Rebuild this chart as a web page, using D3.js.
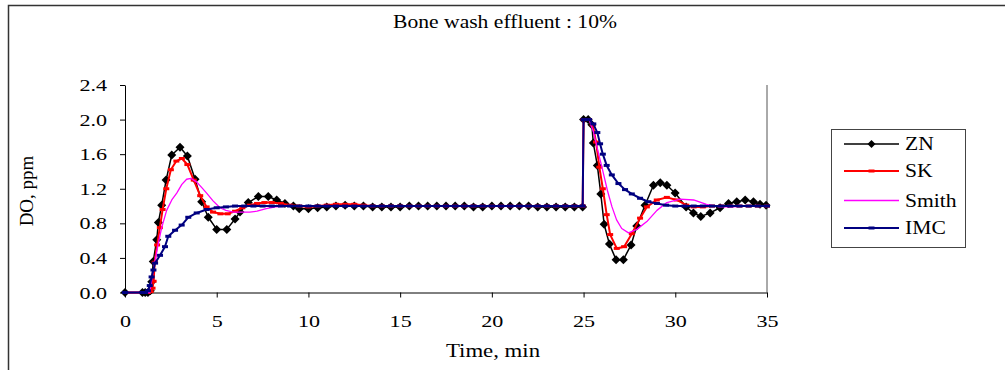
<!DOCTYPE html>
<html>
<head>
<meta charset="utf-8">
<script src="https://cdn.jsdelivr.net/npm/d3@7"></script>
<style>
  html, body { margin: 0; padding: 0; background: #fff; }
  svg { display: block; }
  text { font-family: "Liberation Serif", "Times New Roman", serif; fill: #000; }
</style>
</head>
<body>
<svg id="chart" width="1005" height="370"></svg>
<script>
// ---- data (time in min, DO in ppm) ----
const xTicks = [0, 5, 10, 15, 20, 25, 30, 35];
const yTicks = [0, 0.4, 0.8, 1.2, 1.6, 2.0, 2.4];
const seriesNames = ["ZN", "SK", "Smith", "IMC"];
const chartTitle = "Bone wash effluent : 10%";
const xTitle = "Time, min";
const yTitle = "DO, ppm";

const znData = [[0,0],[0.95,0],[1.1,0],[1.25,0],[1.38,0.02],[1.46,0.125],[1.54,0.36],[1.73,0.61],[1.82,0.81],[2.0,1.01],
  [2.24,1.30],[2.55,1.59],[3.0,1.68],[3.4,1.58],[3.82,1.31],[4.18,1.05],[4.54,0.87],[5.0,0.73],[5.55,0.73],[6.0,0.85],
  [6.27,0.93],[6.72,1.04],[7.27,1.11],[7.81,1.11],[8.27,1.07],[8.72,1.03],[9.18,1.0],[9.5,0.97],
  [10,0.97],[10.5,0.98],[11,0.99],[11.5,1.0],[12,1.01],[12.5,1.0],[13,1.0],[13.5,0.99],[14,0.99],[14.5,0.99],
  [15,0.99],[15.5,1.0],[16,1.0],[16.5,1.0],[17,1.0],[17.5,1.0],[18,1.0],[18.5,1.0],[19,0.99],[19.5,0.99],
  [20,1.0],[20.5,1.0],[21,1.0],[21.5,1.0],[22,1.0],[22.5,0.99],[23,0.99],[23.5,0.99],[24,0.99],[24.5,0.99],
  [24.95,0.99],[25.0,2.0],[25.25,2.0],[25.45,1.94],[25.53,1.73],[25.75,1.47],[25.94,1.14],[26.12,0.79],[26.41,0.56],
  [26.77,0.38],[27.17,0.38],[27.59,0.55],[27.9,0.77],[28.35,1.01],[28.81,1.24],[29.18,1.27],[29.54,1.24],[29.99,1.15],
  [30.59,0.99],[30.99,0.92],[31.39,0.88],[31.9,0.92],[32.44,0.98],[32.9,1.03],[33.35,1.05],[33.81,1.07],[34.26,1.05],
  [34.62,1.02],[34.95,1.01]];

const skData = [[0,0],[0.95,0],[1.1,0],[1.25,0],[1.4,0.01],[1.5,0.05],[1.56,0.13],[1.62,0.35],[1.75,0.55],[1.9,0.75],
  [2.05,0.96],[2.25,1.2],[2.5,1.42],[2.8,1.52],[3.1,1.55],[3.4,1.48],[3.75,1.3],[4.1,1.12],[4.45,0.99],[4.8,0.93],
  [5.2,0.91],[5.6,0.91],[6.0,0.94],[6.4,0.98],[6.8,1.01],[7.2,1.03],[7.6,1.04],[8.0,1.04],[8.5,1.03],[9.0,1.01],
  [9.5,1.0],[10,0.99],[10.5,1.0],[11,1.01],[11.5,1.02],[12,1.02],[12.5,1.02],[13,1.01],[13.5,1.0],[14,1.0],
  [14.5,1.0],[15,1.0],[15.5,1.0],[16,1.0],[16.5,1.0],[17,1.0],[17.5,1.0],[18,1.0],[18.5,1.0],[19,1.0],
  [19.5,1.0],[20,1.0],[20.5,1.0],[21,1.0],[21.5,1.0],[22,1.0],[22.5,1.0],[23,1.0],[23.5,1.0],[24,1.0],
  [24.5,1.0],[24.95,1.0],[25,2.0],[25.3,2.0],[25.5,1.94],[25.68,1.74],[25.86,1.45],[26.05,1.2],[26.26,0.9],[26.45,0.67],
  [26.81,0.51],[27.21,0.53],[27.63,0.68],[28.08,0.86],[28.45,0.99],[28.99,1.07],[29.54,1.1],[30.08,1.07],[30.6,1.01],
  [31.0,0.99],[31.5,0.99],[32,1.0],[32.5,1.0],[33,1.0],[33.5,1.0],[34,1.0],[34.5,1.0],[35,1.0]];

const smithData = [[0,0],[1.35,0],[1.5,0.2],[1.65,0.38],[1.8,0.55],[2.0,0.75],[2.27,0.95],[2.55,1.07],[2.82,1.15],
  [3.1,1.25],[3.36,1.31],[3.6,1.32],[3.9,1.28],[4.2,1.21],[4.45,1.15],[4.8,1.06],[5.18,0.98],[5.5,0.95],[5.9,0.93],
  [6.4,0.93],[6.8,0.93],[7.2,0.94],[7.7,0.97],[8.2,0.99],[8.8,1.0],[10,1.0],[15,1.0],[20,1.0],[24.95,1.0],
  [25,2.0],[25.3,2.0],[25.55,1.85],[25.8,1.62],[26.0,1.45],[26.3,1.18],[26.55,0.99],[26.8,0.84],[27.08,0.74],
  [27.45,0.69],[27.9,0.73],[28.45,0.82],[29.0,0.95],[29.54,1.04],[30.27,1.08],[31.0,1.07],[31.7,1.02],[32.4,0.99],
  [33,0.99],[34,1.0],[35,1.0]];

const imcData = [[0,0],[0.95,0],[1.1,0],[1.25,0.02],[1.35,0.08],[1.45,0.18],[1.55,0.26],[1.64,0.34],[1.91,0.43],
  [2.18,0.53],[2.36,0.65],[2.73,0.72],[3.09,0.78],[3.45,0.87],[3.91,0.92],[4.45,0.96],[5.0,0.98],[5.5,0.99],
  [6.0,1.0],[6.5,1.0],[7,1.0],[7.5,1.0],[8,1.0],[8.5,1.0],[9,1.0],[9.5,1.0],[10,1.0],[10.5,1.0],[11,1.0],[11.5,1.0],
  [12,1.0],[12.5,1.0],[13,1.0],[13.5,1.0],[14,1.0],[14.5,1.0],[15,1.0],[15.5,1.0],[16,1.0],[16.5,1.0],[17,1.0],
  [17.5,1.0],[18,1.0],[18.5,1.0],[19,1.0],[19.5,1.0],[20,1.0],[20.5,1.0],[21,1.0],[21.5,1.0],[22,1.0],[22.5,1.0],
  [23,1.0],[23.5,1.0],[24,1.0],[24.5,1.0],[24.95,1.0],[25,2.0],[25.3,2.0],[25.53,1.95],[25.75,1.85],[25.9,1.72],
  [26.05,1.6],[26.26,1.47],[26.54,1.36],[26.9,1.26],[27.26,1.19],[27.63,1.14],[28.08,1.09],[28.53,1.05],[29,1.03],
  [29.5,1.01],[30,1.0],[30.5,1.0],[31,1.0],[31.5,1.0],[32,1.0],[32.5,1.0],[33,1.0],[33.5,1.0],[34,1.0],[34.5,1.0],[35,1.0]];

// ---- drawing ----
const svg = d3.select("#chart");
const x = d3.scaleLinear().domain([0, 35]).range([125, 767]);
const y = d3.scaleLinear().domain([0, 2.4]).range([292.5, 85]);

// outer frame (cut at bottom/right like the reference)
svg.append("path")
  .attr("d", "M8.5,370 L8.5,5.5 L1005,5.5")
  .attr("fill", "none").attr("stroke", "#333").attr("stroke-width", 1.5);

// title
svg.append("text").text(chartTitle)
  .attr("text-anchor", "middle").attr("font-size", 18)
  .attr("transform", "translate(505,28) scale(1.2,1)");

// right plot border
svg.append("line").attr("x1", 767).attr("x2", 767).attr("y1", y(2.4)).attr("y2", y(0))
  .attr("stroke", "#555").attr("stroke-width", 1);

// axes
const gy = svg.append("g").attr("transform", `translate(${x(0)},0)`)
  .call(d3.axisLeft(y).tickValues(yTicks).tickFormat(d3.format(".1f")).tickSize(5).tickSizeOuter(0));
gy.selectAll("text").attr("x", null).attr("dy", null)
  .attr("font-size", 17).attr("font-family", "Liberation Serif")
  .attr("transform", "translate(-18,5.5) scale(1.3,1)");

const gx = svg.append("g").attr("transform", `translate(0,${y(0)})`)
  .call(d3.axisBottom(x).tickValues(xTicks).tickFormat(d3.format("d")).tickSize(5).tickSizeOuter(0));
gx.selectAll("text").attr("y", null).attr("dy", null)
  .attr("font-size", 17).attr("font-family", "Liberation Serif")
  .attr("transform", "translate(0,34) scale(1.3,1)");
svg.selectAll(".domain, .tick line").attr("stroke", "#000");

// axis titles
svg.append("text").text(xTitle).attr("text-anchor", "middle").attr("font-size", 19)
  .attr("transform", "translate(493,357) scale(1.2,1)");
svg.append("text").text(yTitle).attr("text-anchor", "middle").attr("font-size", 19)
  .attr("transform", "translate(33,191) rotate(-90)");

// series
const line = d3.line().x(d => x(d[0])).y(d => y(d[1]));
const diamond = "M0,-4.5L4.5,0L0,4.5L-4.5,0Z";
const series = [
  { name: seriesNames[0], data: znData, color: "#000000", width: 1.5, marker: "diamond" },
  { name: seriesNames[1], data: skData, color: "#FF0000", width: 2, marker: "dash" },
  { name: seriesNames[2], data: smithData, color: "#FF00FF", width: 1.3, marker: null },
  { name: seriesNames[3], data: imcData, color: "#000080", width: 2, marker: "dash" }
];
const plot = svg.append("g");
series.forEach(s => {
  plot.append("path").datum(s.data).attr("d", line)
    .attr("fill", "none").attr("stroke", s.color).attr("stroke-width", s.width)
    .attr("stroke-linejoin", "round");
  if (s.marker === "diamond") {
    plot.selectAll(null).data(s.data).join("path")
      .attr("d", diamond).attr("fill", s.color)
      .attr("transform", d => `translate(${x(d[0])},${y(d[1])})`);
  } else if (s.marker === "dash") {
    plot.selectAll(null).data(s.data).join("rect")
      .attr("x", d => x(d[0]) - 3).attr("y", d => y(d[1]) - 1.5)
      .attr("width", 6).attr("height", 3).attr("fill", s.color);
  }
});

// legend
const lg = svg.append("g");
lg.append("rect").attr("x", 831.5).attr("y", 129.5).attr("width", 134).attr("height", 118)
  .attr("fill", "#fff").attr("stroke", "#444").attr("stroke-width", 1);
const legendY = [144, 171, 200.5, 228];
series.forEach((s, i) => {
  const yy = legendY[i];
  lg.append("line").attr("x1", 844).attr("x2", 899).attr("y1", yy).attr("y2", yy)
    .attr("stroke", s.color).attr("stroke-width", s.width);
  if (s.marker === "diamond") {
    lg.append("path").attr("d", "M0,-4L4,0L0,4L-4,0Z").attr("fill", s.color)
      .attr("transform", `translate(871.5,${yy})`);
  } else if (s.marker === "dash") {
    lg.append("rect").attr("x", 868.5).attr("y", yy - 1.5).attr("width", 6).attr("height", 3).attr("fill", s.color);
  }
  lg.append("text").text(s.name).attr("font-size", 18)
    .attr("transform", `translate(905,${yy + 6}) scale(1.2,1)`);
});
</script>
</body>
</html>
